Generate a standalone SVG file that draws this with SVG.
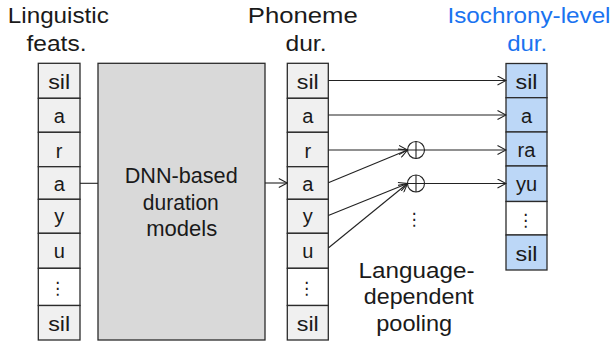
<svg xmlns="http://www.w3.org/2000/svg" width="610" height="347" viewBox="0 0 610 347">
<defs>
<style>
.lbl{font-family:"Liberation Sans",Arial,sans-serif;font-size:22px;fill:#1a1a1a;text-anchor:middle}
.blue{fill:#1a73f0}
.cell{stroke:#2b2b2b;stroke-width:1.3;fill:#f0f0f0}
.bcell{stroke:#2b2b2b;stroke-width:1.3;fill:#bcd7f7}
.wcell{stroke:#2b2b2b;stroke-width:1.3;fill:#ffffff}
.ct{font-family:"Liberation Sans",Arial,sans-serif;font-size:20px;fill:#1a1a1a;text-anchor:middle}
.dots{font-family:"DejaVu Sans",sans-serif;font-size:17px;fill:#1a1a1a;text-anchor:middle}
.ln{stroke:#222;stroke-width:1.1;fill:none}
.plus{stroke:#222;stroke-width:1.1;fill:#fff}
</style>
<marker id="ah" viewBox="0 0 10 10" refX="9" refY="5" markerWidth="10" markerHeight="10" markerUnits="userSpaceOnUse" orient="auto">
<path d="M0.5,0.5 L9,5 L0.5,9.5" fill="none" stroke="#222" stroke-width="1.1"/>
</marker>
</defs>
<rect width="610" height="347" fill="#ffffff"/>

<g id="labels">
<text class="lbl" x="58.3" y="22.7" textLength="101" lengthAdjust="spacingAndGlyphs">Linguistic</text>
<text class="lbl" x="56.5" y="50.5" textLength="60" lengthAdjust="spacingAndGlyphs">feats.</text>
<text class="lbl" x="302.8" y="22.7" textLength="110" lengthAdjust="spacingAndGlyphs">Phoneme</text>
<text class="lbl" x="306" y="50.5" textLength="41" lengthAdjust="spacingAndGlyphs">dur.</text>
<text class="lbl blue" x="529" y="22.7" textLength="163" lengthAdjust="spacingAndGlyphs">Isochrony-level</text>
<text class="lbl blue" x="527.2" y="50.5" textLength="40" lengthAdjust="spacingAndGlyphs">dur.</text>
</g>

<g id="linguistic-feats">
<rect class="cell" x="38.3" y="63.3" width="41.7" height="35"/>
<rect class="cell" x="38.3" y="98.3" width="41.7" height="34"/>
<rect class="cell" x="38.3" y="132.3" width="41.7" height="34.4"/>
<rect class="cell" x="38.3" y="166.7" width="41.7" height="32.6"/>
<rect class="cell" x="38.3" y="199.3" width="41.7" height="34"/>
<rect class="cell" x="38.3" y="233.3" width="41.7" height="35"/>
<rect class="wcell" x="38.3" y="268.3" width="41.7" height="37.2"/>
<rect class="cell" x="38.3" y="305.5" width="41.7" height="34.5"/>
<text class="ct" x="59.2" y="89.3" textLength="22" lengthAdjust="spacingAndGlyphs">sil</text>
<text class="ct" x="59.2" y="123.3">a</text>
<text class="ct" x="59.2" y="157.5">r</text>
<text class="ct" x="59.2" y="190.5">a</text>
<text class="ct" x="59.2" y="222.5">y</text>
<text class="ct" x="59.2" y="258">u</text>
<text class="dots" x="57.5" y="294">⋮</text>
<text class="ct" x="59.2" y="330.5" textLength="22" lengthAdjust="spacingAndGlyphs">sil</text>
</g>

<g id="dnn">
<rect x="98" y="63.3" width="167" height="276.7" fill="#d9d9d9" stroke="#2b2b2b" stroke-width="1.3"/>
<text class="lbl" x="181.2" y="183.3" font-size="20.5" textLength="113" lengthAdjust="spacingAndGlyphs">DNN-based</text>
<text class="lbl" x="180.8" y="209.7" font-size="20.5" textLength="76" lengthAdjust="spacingAndGlyphs">duration</text>
<text class="lbl" x="181.7" y="236" font-size="20.5" textLength="71" lengthAdjust="spacingAndGlyphs">models</text>
</g>

<g id="phoneme-dur">
<rect class="cell" x="287.3" y="63.3" width="41" height="35"/>
<rect class="cell" x="287.3" y="98.3" width="41" height="34"/>
<rect class="cell" x="287.3" y="132.3" width="41" height="34.4"/>
<rect class="cell" x="287.3" y="166.7" width="41" height="32.6"/>
<rect class="cell" x="287.3" y="199.3" width="41" height="34"/>
<rect class="cell" x="287.3" y="233.3" width="41" height="35"/>
<rect class="wcell" x="287.3" y="268.3" width="41" height="37.2"/>
<rect class="cell" x="287.3" y="305.5" width="41" height="34.5"/>
<text class="ct" x="307.8" y="89.3" textLength="22" lengthAdjust="spacingAndGlyphs">sil</text>
<text class="ct" x="307.8" y="123.3">a</text>
<text class="ct" x="307.8" y="157.5">r</text>
<text class="ct" x="307.8" y="190.5">a</text>
<text class="ct" x="307.8" y="222.5">y</text>
<text class="ct" x="307.8" y="258">u</text>
<text class="dots" x="306.5" y="294">⋮</text>
<text class="ct" x="307.8" y="330.5" textLength="22" lengthAdjust="spacingAndGlyphs">sil</text>
</g>

<g id="pool1">
<circle class="plus" cx="416" cy="150" r="8.5"/>
<path class="ln" d="M407.5,150 H424.5 M416,141.5 V158.5"/>
</g>
<g id="pool2">
<circle class="plus" cx="416" cy="183.5" r="8.5"/>
<path class="ln" d="M407.5,183.5 H424.5 M416,175 V192"/>
</g>
<g id="pooling-label">
<text class="dots" x="414" y="225">⋮</text>
<text class="lbl" x="416.5" y="277.5" textLength="116" lengthAdjust="spacingAndGlyphs">Language-</text>
<text class="lbl" x="418.8" y="304" textLength="110" lengthAdjust="spacingAndGlyphs">dependent</text>
<text class="lbl" x="414.2" y="330.5" textLength="76" lengthAdjust="spacingAndGlyphs">pooling</text>
</g>

<g id="isochrony-dur">
<rect class="bcell" x="506" y="63.5" width="41" height="34.2"/>
<rect class="bcell" x="506" y="97.7" width="41" height="34.3"/>
<rect class="bcell" x="506" y="132" width="41" height="34"/>
<rect class="bcell" x="506" y="166" width="41" height="35.5"/>
<rect class="wcell" x="506" y="201.5" width="41" height="33.5"/>
<rect class="bcell" x="506" y="235" width="41" height="35"/>
<text class="ct" x="526.5" y="89" textLength="22" lengthAdjust="spacingAndGlyphs">sil</text>
<text class="ct" x="526.5" y="123">a</text>
<text class="ct" x="526.5" y="157">ra</text>
<text class="ct" x="526.5" y="191">yu</text>
<text class="dots" x="525.5" y="226">⋮</text>
<text class="ct" x="526.5" y="261" textLength="22" lengthAdjust="spacingAndGlyphs">sil</text>
</g>

<g id="connectors">
<path class="ln" d="M80,183.3 H98" stroke="#444"/>
<path class="ln" d="M265,183 H287.3" marker-end="url(#ah)"/>
<path class="ln" d="M328.3,80.5 H506" marker-end="url(#ah)"/>
<path class="ln" d="M328.3,115 H506" marker-end="url(#ah)"/>
<path class="ln" d="M328.3,150 H407.5" marker-end="url(#ah)"/>
<path class="ln" d="M328.3,182.7 L407.5,150" marker-end="url(#ah)"/>
<path class="ln" d="M328.3,215.5 L407.5,183.5" marker-end="url(#ah)"/>
<path class="ln" d="M328.3,248 L407.5,183.5" marker-end="url(#ah)"/>
<path class="ln" d="M424.5,150 H506" marker-end="url(#ah)"/>
<path class="ln" d="M424.5,183.5 H506" marker-end="url(#ah)"/>
</g>
</svg>
